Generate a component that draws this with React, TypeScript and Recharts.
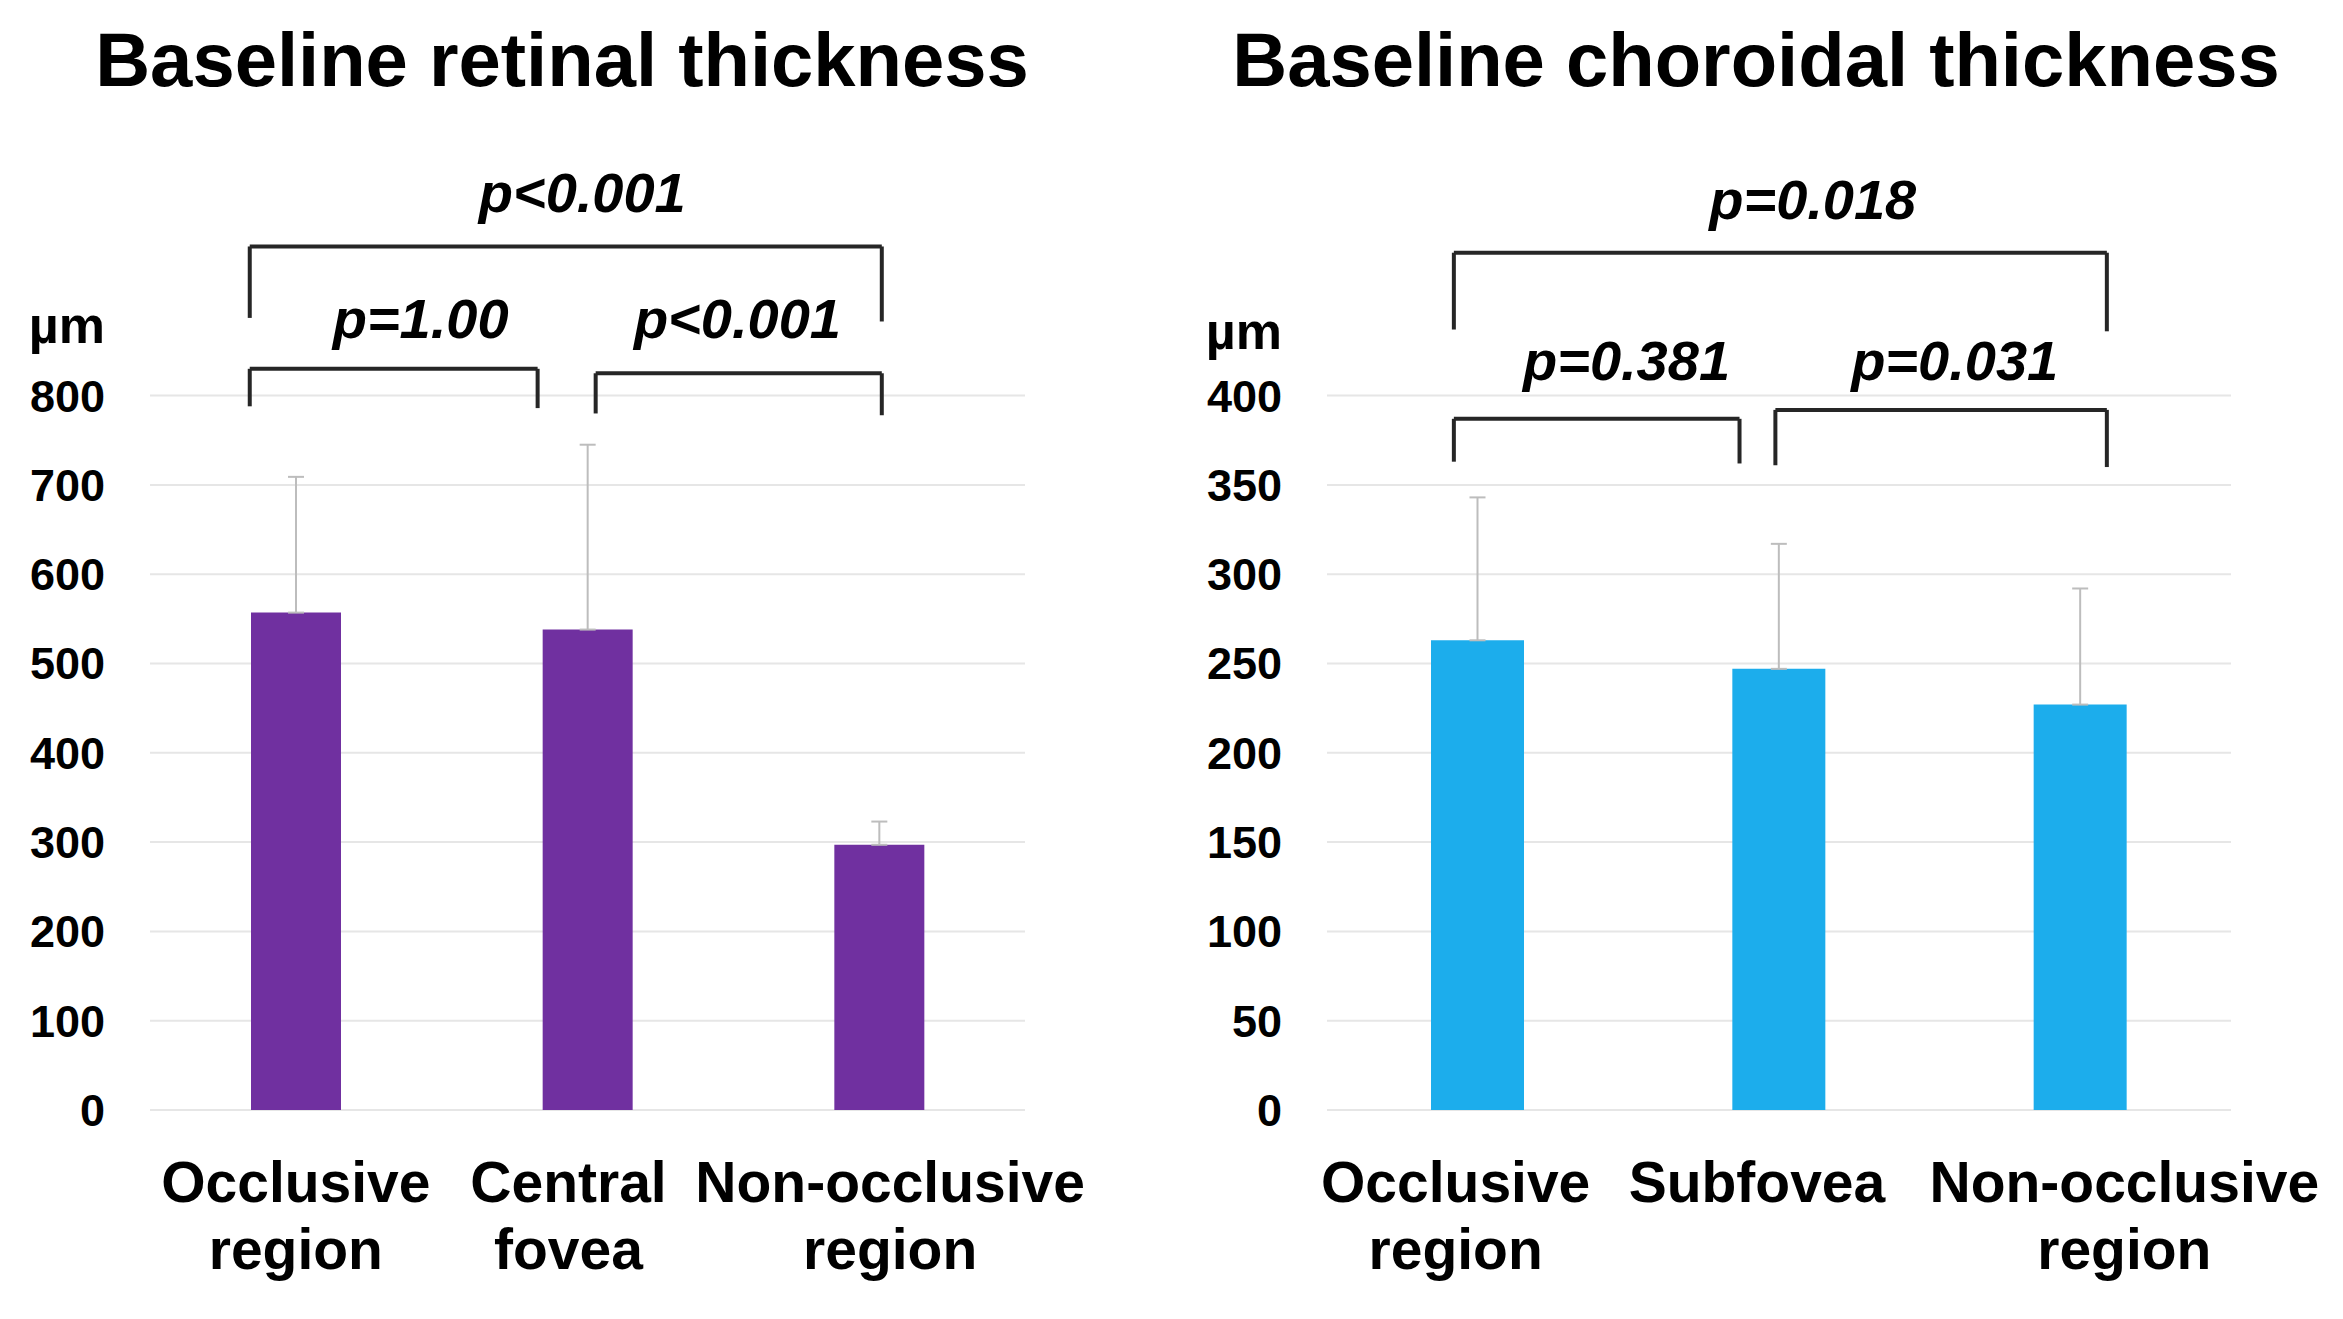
import { BarChart, Bar, XAxis, YAxis, CartesianGrid, ErrorBar, ReferenceLine, ReferenceDot } from "recharts";

const FONT = "'Liberation Sans', Arial, sans-serif";

// retinal chart
const retinalCategories = ["Occlusive region", "Central fovea", "Non-occlusive region"];
const retinalMeans = [557, 538, 297];
const retinalSD = [152, 207, 26];
const retinalTicks = [0, 100, 200, 300, 400, 500, 600, 700, 800];

// choroidal chart
const choroidalCategories = ["Occlusive region", "Subfovea", "Non-occlusive region"];
const choroidalMeans = [263, 247, 227];
const choroidalSD = [80, 70, 65];
const choroidalTicks = [0, 50, 100, 150, 200, 250, 300, 350, 400];

// significance brackets, x in category units (0..3), y in µm
const retinalBrackets = [
  { x1: 0.342, x2: 1.329, top: 830, left: 788, right: 786 },
  { x1: 1.528, x2: 2.509, top: 825, left: 780, right: 778 },
  { x1: 0.342, x2: 2.509, top: 967, left: 887, right: 883 },
];
const retinalPValues = [
  { x: 0.928, y: 864, text: "p=1.00" },
  { x: 2.014, y: 864, text: "p<0.001" },
  { x: 1.482, y: 1006, text: "p<0.001" },
];
const choroidalBrackets = [
  { x1: 0.421, x2: 1.369, top: 387, left: 363, right: 362 },
  { x1: 1.488, x2: 2.588, top: 392, left: 361, right: 360 },
  { x1: 0.421, x2: 2.588, top: 480, left: 437, right: 436 },
];
const choroidalPValues = [
  { x: 0.994, y: 409, text: "p=0.381" },
  { x: 2.083, y: 409, text: "p=0.031" },
  { x: 1.612, y: 499, text: "p=0.018" },
];

// small horizontal nudges of the category labels (px), as in the original figure
const retinalLabelShift = [0, -19, 11];
const choroidalLabelShift = [-22, -22, 44];

function toRows(cats: string[], means: number[], sd: number[]) {
  return cats.map((name, i) => ({ name, pos: i + 0.5, value: means[i], err: [0, sd[i]] }));
}

function makeTick(shift: number[]) {
  return (props: any) => {
    const { x, y, payload, index } = props;
    const lines = String(payload.value).split(" ");
    const cx = x + (shift[index] || 0);
    return (
      <text x={cx} y={y} textAnchor="middle" fill="#000" fontFamily={FONT} fontWeight="bold" fontSize={57}>
        {lines.map((l, i) => (
          <tspan key={i} x={cx} dy={i === 0 ? 92 : 67}>
            {l}
          </tspan>
        ))}
      </text>
    );
  };
}

function PText(text: string) {
  return (props: any) => (
    <text
      x={props.cx}
      y={props.cy}
      textAnchor="middle"
      fill="#000"
      fontFamily={FONT}
      fontWeight="bold"
      fontStyle="italic"
      fontSize={56}
    >
      {text}
    </text>
  );
}

interface PanelProps {
  cats: string[];
  means: number[];
  sd: number[];
  ticks: number[];
  domainMax: number;
  color: string;
  barSize: number;
  yWidth: number;
  rightMargin: number;
  width: number;
  labelShift: number[];
  brackets: { x1: number; x2: number; top: number; left: number; right: number }[];
  pvalues: { x: number; y: number; text: string }[];
}

function Panel(p: PanelProps) {
  const data = toRows(p.cats, p.means, p.sd);
  const line = { xAxisId: "br", stroke: "#262626", strokeWidth: 4, ifOverflow: "visible" as const };
  return (
    <BarChart width={p.width} height={1319} data={data} margin={{ top: 217, right: p.rightMargin, left: 0, bottom: 9 }}>
      <CartesianGrid vertical={false} stroke="#e6e6e6" strokeWidth={2} horizontalValues={p.ticks} />
      <XAxis
        dataKey="name"
        axisLine={false}
        tickLine={false}
        tickSize={0}
        tickMargin={0}
        height={200}
        interval={0}
        tick={makeTick(p.labelShift)}
      />
      <XAxis xAxisId="br" dataKey="pos" type="number" domain={[0, 3]} hide allowDataOverflow />
      <YAxis
        width={p.yWidth}
        domain={[0, p.domainMax]}
        ticks={p.ticks}
        axisLine={false}
        tickLine={false}
        tickSize={0}
        tickMargin={45}
        allowDataOverflow
        tick={{ fill: "#000", fontFamily: FONT, fontWeight: "bold", fontSize: 45 }}
      />
      <Bar dataKey="value" fill={p.color} barSize={p.barSize} isAnimationActive={false}>
        <ErrorBar dataKey="err" width={8} strokeWidth={2} stroke="#bdbdbd" direction="y" />
      </Bar>
      {p.brackets.map((b, i) => [
        <ReferenceLine key={`l${i}`} {...line} segment={[{ x: b.x1, y: b.left }, { x: b.x1, y: b.top }]} />,
        <ReferenceLine key={`t${i}`} {...line} segment={[{ x: b.x1, y: b.top }, { x: b.x2, y: b.top }]} />,
        <ReferenceLine key={`r${i}`} {...line} segment={[{ x: b.x2, y: b.top }, { x: b.x2, y: b.right }]} />,
      ])}
      {p.pvalues.map((t, i) => (
        <ReferenceDot key={`p${i}`} xAxisId="br" x={t.x} y={t.y} r={1} ifOverflow="visible" shape={PText(t.text)} />
      ))}
    </BarChart>
  );
}

const titleStyle: React.CSSProperties = {
  position: "absolute",
  top: 22,
  fontFamily: FONT,
  fontWeight: "bold",
  fontSize: 76,
  lineHeight: "76px",
  textAlign: "center",
  color: "#000",
  whiteSpace: "nowrap",
};

const unitStyle: React.CSSProperties = {
  position: "absolute",
  fontFamily: FONT,
  fontWeight: "bold",
  fontSize: 52,
  lineHeight: "52px",
  textAlign: "right",
  color: "#000",
};

export default function App() {
  return (
    <div style={{ position: "absolute", left: 0, top: 0, width: 2343, height: 1319, background: "#fff" }}>
      <div style={{ position: "absolute", left: 0, top: 0 }}>
        <Panel
          cats={retinalCategories}
          means={retinalMeans}
          sd={retinalSD}
          ticks={retinalTicks}
          domainMax={1000}
          color="#7030A0"
          barSize={90}
          yWidth={150}
          rightMargin={138}
          width={1163}
          labelShift={retinalLabelShift}
          brackets={retinalBrackets}
          pvalues={retinalPValues}
        />
      </div>
      <div style={{ position: "absolute", left: 1163, top: 0 }}>
        <Panel
          cats={choroidalCategories}
          means={choroidalMeans}
          sd={choroidalSD}
          ticks={choroidalTicks}
          domainMax={500}
          color="#1CADEC"
          barSize={93}
          yWidth={164}
          rightMargin={112}
          width={1180}
          labelShift={choroidalLabelShift}
          brackets={choroidalBrackets}
          pvalues={choroidalPValues}
        />
      </div>
      <div style={{ ...titleStyle, left: 0, width: 1124 }}>Baseline retinal thickness</div>
      <div style={{ ...titleStyle, left: 1156, width: 1200 }}>Baseline choroidal thickness</div>
      <div style={{ ...unitStyle, left: 0, width: 105, top: 299 }}>µm</div>
      <div style={{ ...unitStyle, left: 1182, width: 100, top: 305 }}>µm</div>
    </div>
  );
}
